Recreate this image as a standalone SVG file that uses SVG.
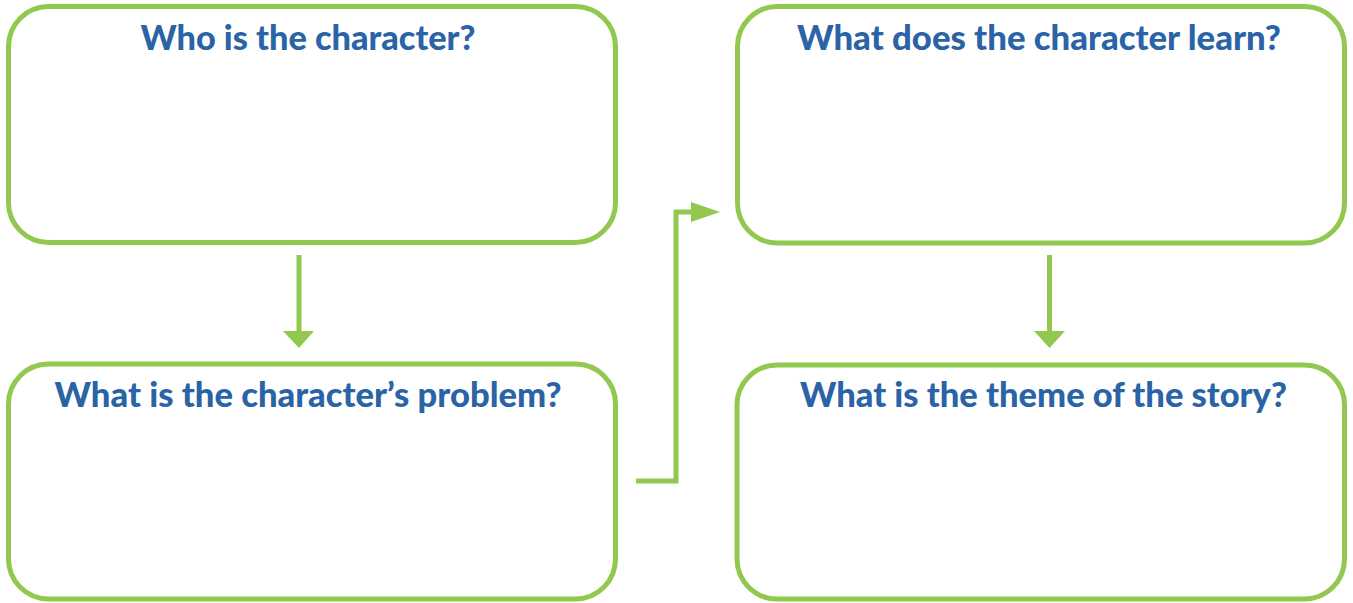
<svg xmlns="http://www.w3.org/2000/svg" width="1353" height="603" viewBox="0 0 1353 603">
<style>
.box{fill:#ffffff;stroke:#92c84f;stroke-width:5}
.t{font-family:"Lato","Open Sans",sans-serif;font-weight:900;font-size:34px;fill:#2a64a6;text-anchor:middle}
.c{fill:none;stroke:#92c84f;stroke-width:5}
.h{fill:#92c84f}
</style>
<rect width="1353" height="603" fill="#ffffff"/>
<g id="node1">
<rect class="box" x="8.5" y="6.5" width="607" height="236" rx="40" ry="40"/>
<text class="t" x="308" y="50" textLength="335" lengthAdjust="spacingAndGlyphs">Who is the character?</text>
</g>
<g id="node2">
<rect class="box" x="8.5" y="364" width="607" height="235" rx="40" ry="40"/>
<text class="t" x="308" y="407" textLength="507" lengthAdjust="spacingAndGlyphs">What is the character’s problem?</text>
</g>
<g id="node3">
<rect class="box" x="737.5" y="6.5" width="607" height="236.5" rx="40" ry="40"/>
<text class="t" x="1039" y="50" textLength="484" lengthAdjust="spacingAndGlyphs">What does the character learn?</text>
</g>
<g id="node4">
<rect class="box" x="737" y="365" width="607.5" height="234" rx="40" ry="40"/>
<text class="t" x="1043.5" y="407" textLength="487" lengthAdjust="spacingAndGlyphs">What is the theme of the story?</text>
</g>
<g id="connectors">
<line class="c" x1="299" y1="255" x2="299" y2="334"/>
<polygon class="h" points="283,331 314,331 299,348"/>
<line class="c" x1="1049.5" y1="255" x2="1049.5" y2="334"/>
<polygon class="h" points="1034,331 1065,331 1049.5,348"/>
<polyline class="c" points="636,481 676,481 676,212 694,212"/>
<polygon class="h" points="691,202 720,212 691,222"/>
</g>
</svg>
